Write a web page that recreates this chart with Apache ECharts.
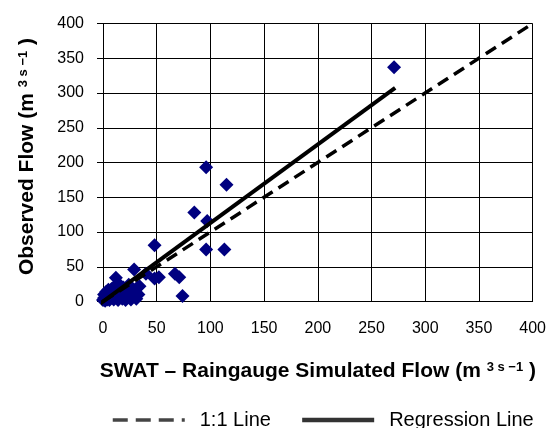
<!DOCTYPE html>
<html><head><meta charset="utf-8">
<script src="https://cdn.jsdelivr.net/npm/echarts@6/dist/echarts.min.js"></script>
<style>html,body{margin:0;padding:0;background:#fff}#c{width:549px;height:428px}</style>
</head><body><div id="c"></div>
<script>
var simulatedFlow = [0,1,1,2,3,3,4,5,5,6,7,7,8,9,10,10,11,12,12,13,14,15,15,16,17,18,19,20,21,22,23,24,25,26,27,28,29,30,31,32,33,34,40,
  48,48,52,67,71,74,85,96,97,96,113,115,271];
var observedFlow = [2,5,10,1,7,14,3,9,17,2,12,5,18,8,3,14,22,34,6,11,2,17,25,8,13,4,20,10,2,15,6,24,12,3,18,8,46,14,4,20,10,22,40,
  81,33,35,40,35,8,128,193,116,75,75,168,337];
var oneToOneX = [0, 400];
var oneToOneY = [0, 400];
var regressionX = [-6, 272];
var regressionY = [-6.8, 307.4];
var axisTicks = [0,50,100,150,200,250,300,350,400];

var FONT = 'Liberation Sans, Arial, sans-serif';
var scatterData = simulatedFlow.map(function(x,i){return [x, observedFlow[i]];});
var oneData = oneToOneX.map(function(x,i){return [x, oneToOneY[i]];});
var regData = regressionX.map(function(x,i){return [x, regressionY[i]];});

var chart = echarts.init(document.getElementById('c'), null, {renderer:'canvas'});
var supStyle = {fontSize: 13, fontWeight: 'bold', fontFamily: FONT, color: '#000', verticalAlign: 'top'};
chart.setOption({
  animation: false,
  backgroundColor: '#fff',
  grid: {left: 103, right: 14.5, top: 23.5, bottom: 126.5},
  legend: {
    data: [
      {name: '1:1 Line', lineStyle: {width: 3.5, color: '#444', type: [15, 8]}},
      {name: 'Regression Line', lineStyle: {width: 4.5, color: '#333'}}
    ],
    left: 106, top: 405, width: 520, orient: 'horizontal',
    itemWidth: 72, itemHeight: 14, itemGap: 29,
    itemStyle: {opacity: 0},
    textStyle: {fontFamily: FONT, fontSize: 20, color: '#000', padding: [0,0,0,10]}
  },
  xAxis: {
    type: 'value', min: axisTicks[0], max: axisTicks[axisTicks.length-1], interval: 50,
    name: 'SWAT – Raingauge Simulated Flow (m {s|3 s −1} )',
    nameLocation: 'middle', nameGap: 59,
    nameTextStyle: {fontFamily: FONT, fontSize: 21, fontWeight: 'bold', color: '#000', rich: {s: supStyle}},
    axisLine: {show: true, lineStyle: {color: '#000', width: 1}},
    axisTick: {show: false},
    axisLabel: {fontFamily: FONT, fontSize: 16, color: '#000', margin: 19},
    splitLine: {show: true, lineStyle: {color: '#000', width: 1}}
  },
  yAxis: {
    type: 'value', min: axisTicks[0], max: axisTicks[axisTicks.length-1], interval: 50,
    name: 'Observed Flow (m {s|3 s −1} )',
    nameLocation: 'middle', nameGap: 65, nameRotate: 90,
    nameTextStyle: {fontFamily: FONT, fontSize: 21, fontWeight: 'bold', color: '#000', rich: {s: supStyle}, padding: [0,0,0,12]},
    axisLine: {show: true, lineStyle: {color: '#000', width: 1}},
    axisTick: {show: true, inside: false, length: 6, lineStyle: {color: '#000'}},
    axisLabel: {fontFamily: FONT, fontSize: 16, color: '#000', margin: 19},
    splitLine: {show: true, lineStyle: {color: '#000', width: 1}}
  },
  series: [
    {type: 'scatter', name: 'Observed', data: scatterData, symbol: 'diamond', symbolSize: 14,
     itemStyle: {color: '#000080', opacity: 1}, clip: false, z: 2},
    {type: 'line', name: '1:1 Line', data: oneData, symbol: 'none', clip: false, z: 3,
     lineStyle: {color: '#000', width: 3.5, type: [12, 7]}, itemStyle: {color: '#000'}},
    {type: 'line', name: 'Regression Line', data: regData, symbol: 'none', clip: false, z: 4,
     lineStyle: {color: '#000', width: 4, type: 'solid'}, itemStyle: {color: '#000'}}
  ]
});
</script></body></html>
